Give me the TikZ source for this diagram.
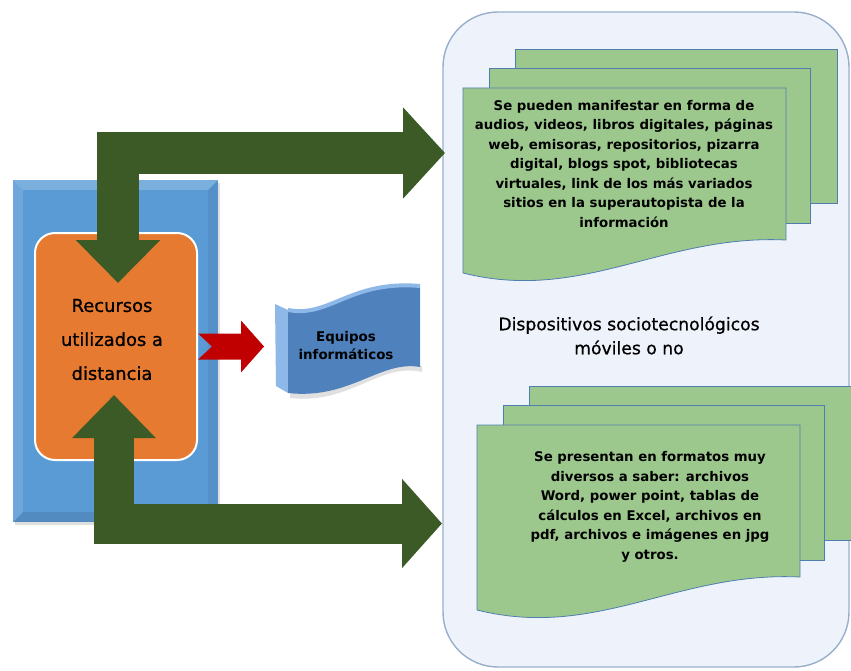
\documentclass[tikz,border=0pt]{standalone}
\usepackage{fontspec}
\setmainfont{DejaVu Sans}
\newfontfamily\medio{DejaVu Sans}[FakeBold=0.8]
\usetikzlibrary{arrows.meta}

\definecolor{fondo}{HTML}{EEF3FB}
\definecolor{borde}{HTML}{98AECB}
\definecolor{azul}{HTML}{5B9BD5}
\definecolor{naranja}{HTML}{E67A30}
\definecolor{verdeosc}{HTML}{3C5A25}
\definecolor{rojo}{HTML}{C00000}
\definecolor{verdeclaro}{HTML}{9DC88D}
\definecolor{bordehoja}{HTML}{4F7DB0}
\definecolor{azulonda}{HTML}{4F81BD}
\definecolor{azulclaro}{HTML}{8DB8E8}

\newcommand{\pila}[2]{%
  \draw[hoja] (#1+52,#2-39) rectangle ++(322,154);
  \draw[hoja] (#1+26,#2-20) rectangle ++(321,155);
  \draw[hoja] (#1,#2) -- ++(323,0) -- ++(0,152)
    .. controls (#1+200,#2+146) and (#1+120,#2+215) .. (#1,#2+185) -- cycle;
}

\begin{document}
\begin{tikzpicture}[x=1pt,y=-1pt,
    hoja/.style={draw=bordehoja,fill=verdeclaro,line width=0.8pt},
    texto hoja/.style={align=center,inner sep=0pt,
      font=\fontsize{13.3}{19.5}\selectfont\bfseries},
    flecha/.style={verdeosc,line width=#1}]
  \useasboundingbox (0,0) rectangle (851,671);
  \node[draw=borde,fill=fondo,line width=1.4pt,rounded corners=55pt,
    minimum width=406pt,minimum height=655pt] (contenedor) at (646,339.5) {};

  \node[fill=black,opacity=.12,minimum width=205pt,minimum height=342pt] (sombra) at (117.5,354) {};
  \node[fill=azul,minimum width=205pt,minimum height=342pt] (marco) at (115.5,351) {};
  \fill[white,opacity=.2] (marco.north west) -- (marco.north east) -- ++(-10,10)
    -- ([shift={(10,10)}]marco.north west) -- cycle;
  \fill[white,opacity=.12] (marco.north west) -- ([shift={(10,10)}]marco.north west)
    -- ([shift={(10,-10)}]marco.south west) -- (marco.south west) -- cycle;
  \fill[black,opacity=.1] (marco.south west) -- (marco.south east)
    -- ([shift={(-10,-10)}]marco.south east) -- ([shift={(10,-10)}]marco.south west) -- cycle;
  \fill[black,opacity=.06] (marco.north east) -- (marco.south east)
    -- ([shift={(-10,-10)}]marco.south east) -- ([shift={(-10,10)}]marco.north east) -- cycle;

  \node[fill=naranja,draw=white,line width=2pt,rounded corners=20pt,
    minimum width=162pt,minimum height=227pt] (recursos) at (116,346.5) {};
  \node[align=center,font=\fontsize{17.9}{34}\selectfont\medio] (recursostxt) at (112,339.5)
    {Recursos\\utilizados a\\distancia};

  \coordinate (e1) at (118,283);
  \coordinate (s1) at (445,153);
  \draw[flecha=42pt,{Triangle[length=43pt,width=82pt]}-{Triangle[length=42pt,width=89pt]}]
    (e1) |- (s1);
  \coordinate (e2) at (114,395);
  \coordinate (s2) at (442,523.5);
  \draw[flecha=40pt,{Triangle[length=43pt,width=81pt]}-{Triangle[length=40pt,width=87pt]}]
    (e2) |- (s2);

  \fill[rojo] (recursos.east) ++(0,-13) -- ++(43,0) -- ++(0,-13) -- ++(23,26)
    -- ++(-23,26) -- ++(0,-13) -- ++(-43,0) -- ++(14,-13) -- cycle;

  \fill[black,opacity=.12] (290,398) .. controls (350,405) and (380,362) .. (422,372)
    -- (422,366) .. controls (380,358) and (350,399) .. (290,392) -- cycle;
  \fill[azulclaro] (275,304) -- (288,310) -- (288,393) -- (276,386) -- cycle;
  \fill[azulonda] (288,310) .. controls (330,318) and (350,280) .. (420,286)
    -- (420,367) .. controls (380,360) and (350,400) .. (288,393) -- cycle;
  \draw[azulclaro,line width=4pt] (288,310) .. controls (330,318) and (350,280) .. (420,286);
  \node[align=center,font=\fontsize{13.4}{18}\selectfont\bfseries] (equipos) at (346,345.5)
    {Equipos\\informáticos};

  \pila{463}{88}
  \pila{477}{425}
  \node[texto hoja] (texto1) at (624,164) {Se pueden manifestar en forma de\\
    audios, videos, libros digitales, páginas\\web, emisoras, repositorios, pizarra\\
    digital, blogs spot, bibliotecas\\virtuales, link de los más variados\\
    sitios en la superautopista de la\\información};
  \node[texto hoja] (texto2) at (650,507) {Se presentan en formatos muy\\
    diversos a saber: archivos\\Word, power point, tablas de\\
    cálculos en Excel, archivos en\\pdf, archivos e imágenes en jpg\\y otros.};

  \node[align=center,font=\fontsize{17.2}{24}\selectfont\medio] (dispositivos) at (629,335.5)
    {Dispositivos sociotecnológicos\\móviles o no};
\end{tikzpicture}
\end{document}
